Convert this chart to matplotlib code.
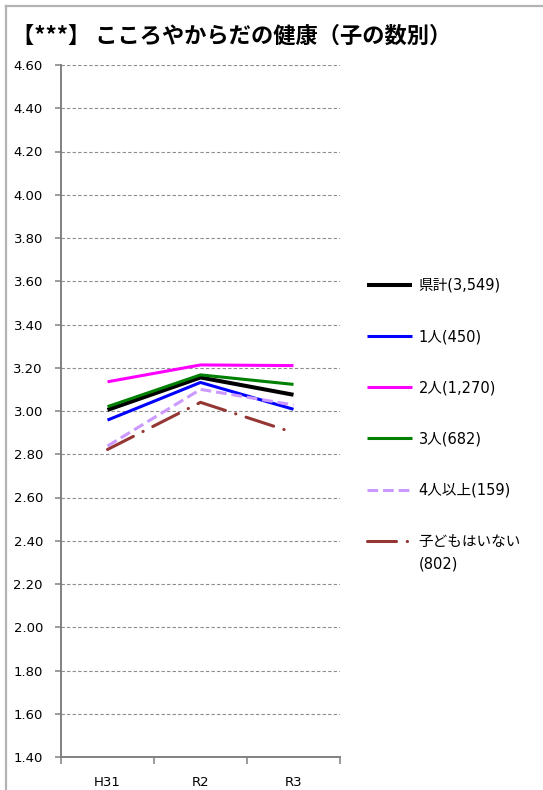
import matplotlib
matplotlib.use('Agg')
import matplotlib.pyplot as plt
from matplotlib.lines import Line2D

plt.rcParams['font.family'] = ['Noto Sans CJK JP', 'DejaVu Sans']

# data
years = ['H31', 'R2', 'R3']
series_names = ['県計(3,549)', '1人(450)', '2人(1,270)', '3人(682)', '4人以上(159)', '子どもはいない']
total = [3.005, 3.155, 3.075]
one_child = [2.958, 3.132, 3.008]
two_children = [3.135, 3.213, 3.210]
three_children = [3.020, 3.167, 3.123]
four_plus = [2.838, 3.100, 3.028]
no_children = [2.822, 3.040, 2.900]
yticks = [1.4, 1.6, 1.8, 2.0, 2.2, 2.4, 2.6, 2.8, 3.0, 3.2, 3.4, 3.6, 3.8, 4.0, 4.2, 4.4, 4.6]

fig = plt.figure(figsize=(5.43, 7.90), dpi=100)
ax = fig.add_axes([61 / 543, 1 - 757 / 790, 279 / 543, 692 / 790])

x = [0.5, 1.5, 2.5]
ax.plot(x, total, color='black', lw=2.9, label=series_names[0], solid_capstyle='butt')
ax.plot(x, one_child, color='#0000ff', lw=2.2, label=series_names[1], solid_capstyle='butt')
ax.plot(x, two_children, color='#ff00ff', lw=2.2, label=series_names[2], solid_capstyle='butt')
ax.plot(x, three_children, color='#008000', lw=2.2, label=series_names[3], solid_capstyle='butt')
ax.plot(x, four_plus, color='#cc99ff', lw=2.2, label=series_names[4], dashes=(3.5, 1.6))
ax.plot(x, no_children, color='#943634', lw=2.2, label=series_names[5],
        dashes=(9.5, 3.5, 0.1, 3.5), dash_capstyle='round')

ax.set_xlim(0, 3)
ax.set_ylim(1.4, 4.6)
ax.set_yticks(yticks)
ax.set_yticklabels(['%.2f' % v for v in yticks], family='DejaVu Sans', fontsize=9.5)
ax.set_xticks([0, 1, 2, 3])
ax.set_xticklabels([])
ax.set_xticks(x, minor=True)
ax.set_xticklabels(years, minor=True, family='DejaVu Sans', fontsize=9.5)
ax.tick_params(axis='x', which='minor', length=0, pad=14)
ax.tick_params(axis='x', which='major', length=5, width=1.1, color='#808080')
ax.tick_params(axis='y', length=4, width=1.1, color='#808080', pad=9)

ax.grid(axis='y', color='#8c8c8c', lw=0.8, ls=(0, (3, 2)))
ax.set_axisbelow(True)
for s in ['top', 'right']:
    ax.spines[s].set_visible(False)
for s in ['left', 'bottom']:
    ax.spines[s].set_color('#808080')
    ax.spines[s].set_linewidth(1.4)

leg = ax.legend(loc='upper left', bbox_to_anchor=(367 / 543, 1 - 278 / 790),
                bbox_transform=fig.transFigure, frameon=False,
                prop={'family': ['DejaVu Sans', 'Noto Sans CJK JP'], 'size': 10.5},
                handlelength=3.1, handletextpad=0.45, labelspacing=2.48,
                borderaxespad=0, borderpad=0)

fig.text(12 / 543, 1 - 36 / 790, '【***】 こころやからだの健康（子の数別）',
         fontsize=16, fontweight='bold', va='center', ha='left')

# frame edges (top and left)
fig.add_artist(Line2D([6 / 543, 1], [1 - 6 / 790, 1 - 6 / 790], color='#b3b3b3', lw=1.6,
                      transform=fig.transFigure))
fig.add_artist(Line2D([6 / 543, 6 / 543], [0, 1 - 6 / 790], color='#b3b3b3', lw=1.6,
                      transform=fig.transFigure))

# second line of the last legend label
fig.canvas.draw()
bb = leg.get_texts()[-1].get_window_extent().transformed(fig.transFigure.inverted())
fig.text(bb.x0, bb.y0 - 8 / 790, '(802)', family=['DejaVu Sans', 'Noto Sans CJK JP'],
         fontsize=10.5, va='top', ha='left')

fig.savefig('out.png', dpi=100)
